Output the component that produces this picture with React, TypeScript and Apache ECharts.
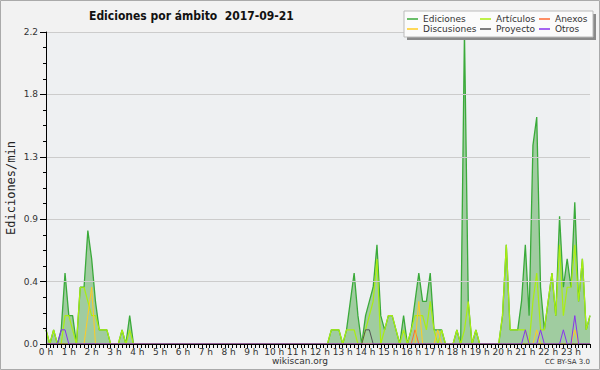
import React, { useEffect, useRef } from "react";
import * as echarts from "echarts";

// Hour tick labels (x axis shows one label per hour, data every 10 minutes)
const hourLabels = [
  "0 h", "1 h", "2 h", "3 h", "4 h", "5 h", "6 h", "7 h", "8 h", "9 h", "10 h", "11 h",
  "12 h", "13 h", "14 h", "15 h", "16 h", "17 h", "18 h", "19 h", "20 h", "21 h", "22 h", "23 h",
];
const minuteSlots = ["00", "10", "20", "30", "40", "50"];

// Values in edits/min, six 10-minute slots per hour
const edicionesByHour = [
  [0.1, 0, 0.1, 0, 0.1, 0.5],
  [0.2, 0.2, 0, 0.4, 0.4, 0.8],
  [0.6, 0.3, 0.1, 0.1, 0.1, 0],
  [0, 0, 0.1, 0, 0.2, 0],
  [0, 0, 0, 0, 0, 0],
  [0, 0, 0, 0, 0, 0],
  [0, 0, 0, 0, 0, 0],
  [0, 0, 0, 0, 0, 0],
  [0, 0, 0, 0, 0, 0],
  [0, 0, 0, 0, 0, 0],
  [0, 0, 0, 0, 0, 0],
  [0, 0, 0, 0, 0, 0],
  [0, 0, 0, 0.1, 0.1, 0.1],
  [0, 0.1, 0.3, 0.5, 0.2, 0],
  [0.2, 0.3, 0.4, 0.7, 0.2, 0.1],
  [0.2, 0.2, 0.1, 0, 0.2, 0],
  [0.1, 0.3, 0.5, 0.3, 0.3, 0.5],
  [0.1, 0.1, 0.1, 0, 0, 0],
  [0.1, 0, 2.2, 0.3, 0, 0.1],
  [0, 0, 0, 0, 0, 0],
  [0.2, 0.7, 0.1, 0.1, 0.1, 0.3],
  [0.7, 0.2, 1.4, 1.6, 0.4, 0.1],
  [0.3, 0.5, 0.2, 0.9, 0.4, 0.6],
  [0.4, 1.0, 0.3, 0.6, 0.1, 0.2],
];

const articulosByHour = [
  [0.1, 0, 0.1, 0, 0, 0.2],
  [0.2, 0.1, 0, 0.4, 0.4, 0.3],
  [0.2, 0.2, 0.1, 0.1, 0.1, 0],
  [0, 0, 0.1, 0, 0.1, 0],
  [0, 0, 0, 0, 0, 0],
  [0, 0, 0, 0, 0, 0],
  [0, 0, 0, 0, 0, 0],
  [0, 0, 0, 0, 0, 0],
  [0, 0, 0, 0, 0, 0],
  [0, 0, 0, 0, 0, 0],
  [0, 0, 0, 0, 0, 0],
  [0, 0, 0, 0, 0, 0],
  [0, 0, 0, 0.1, 0.1, 0.1],
  [0, 0.1, 0.1, 0.1, 0, 0],
  [0.1, 0.2, 0.3, 0.6, 0, 0.1],
  [0.2, 0.2, 0.1, 0, 0.1, 0],
  [0.1, 0.2, 0.2, 0.2, 0.1, 0.3],
  [0.1, 0, 0.1, 0, 0, 0],
  [0.1, 0, 0.1, 0.3, 0, 0.1],
  [0, 0, 0, 0, 0, 0],
  [0.2, 0.7, 0.1, 0.1, 0.1, 0.1],
  [0.1, 0, 0.3, 0.5, 0.1, 0.1],
  [0.3, 0.5, 0.2, 0.7, 0.2, 0.4],
  [0.4, 0.7, 0.3, 0.6, 0.1, 0.2],
];

const anexosByHour = [
  [0, 0, 0, 0, 0, 0], [0, 0, 0, 0, 0, 0], [0, 0, 0, 0, 0, 0], [0, 0, 0, 0, 0, 0],
  [0, 0, 0, 0, 0, 0], [0, 0, 0, 0, 0, 0], [0, 0, 0, 0, 0, 0], [0, 0, 0, 0, 0, 0],
  [0, 0, 0, 0, 0, 0], [0, 0, 0, 0, 0, 0], [0, 0, 0, 0, 0, 0], [0, 0, 0, 0, 0, 0],
  [0, 0, 0, 0, 0, 0], [0, 0, 0, 0, 0, 0], [0, 0, 0, 0, 0, 0], [0, 0, 0, 0, 0, 0],
  [0, 0.1, 0, 0, 0, 0], [0, 0, 0, 0, 0, 0], [0, 0, 0, 0, 0, 0], [0, 0, 0, 0, 0, 0],
  [0, 0, 0, 0, 0, 0], [0, 0, 0, 0, 0, 0], [0, 0, 0, 0, 0, 0], [0, 0, 0, 0, 0, 0],
];

const discusionesByHour = [
  [0, 0, 0, 0, 0, 0], [0, 0, 0, 0, 0, 0.2], [0.4, 0, 0, 0, 0, 0], [0, 0, 0, 0, 0, 0],
  [0, 0, 0, 0, 0, 0], [0, 0, 0, 0, 0, 0], [0, 0, 0, 0, 0, 0], [0, 0, 0, 0, 0, 0],
  [0, 0, 0, 0, 0, 0], [0, 0, 0, 0, 0, 0], [0, 0, 0, 0, 0, 0], [0, 0, 0, 0, 0, 0],
  [0, 0, 0, 0, 0, 0], [0, 0, 0, 0, 0, 0], [0, 0, 0, 0, 0, 0], [0, 0, 0, 0, 0, 0],
  [0, 0, 0.3, 0, 0, 0], [0, 0.1, 0, 0, 0, 0], [0, 0, 0, 0, 0, 0], [0, 0, 0, 0, 0, 0],
  [0, 0, 0, 0, 0, 0], [0, 0, 0, 0.1, 0, 0], [0, 0, 0, 0, 0, 0], [0, 0.1, 0, 0, 0, 0],
];

const proyectoByHour = [
  [0, 0, 0, 0, 0, 0], [0, 0, 0, 0, 0, 0], [0, 0, 0, 0, 0, 0], [0, 0, 0, 0, 0, 0],
  [0, 0, 0, 0, 0, 0], [0, 0, 0, 0, 0, 0], [0, 0, 0, 0, 0, 0], [0, 0, 0, 0, 0, 0],
  [0, 0, 0, 0, 0, 0], [0, 0, 0, 0, 0, 0], [0, 0, 0, 0, 0, 0], [0, 0, 0, 0, 0, 0],
  [0, 0, 0, 0, 0, 0], [0, 0, 0, 0, 0, 0], [0.1, 0.1, 0, 0, 0, 0], [0, 0, 0, 0, 0, 0],
  [0, 0, 0, 0, 0, 0], [0, 0, 0, 0, 0, 0], [0, 0, 0, 0, 0, 0], [0, 0, 0, 0, 0, 0],
  [0, 0, 0, 0, 0, 0], [0, 0, 0, 0, 0, 0], [0, 0, 0, 0, 0, 0], [0, 0, 0, 0, 0, 0],
];

const otrosByHour = [
  [0, 0, 0, 0, 0.1, 0.1], [0, 0, 0, 0, 0, 0], [0, 0, 0, 0, 0, 0], [0, 0, 0, 0, 0, 0],
  [0, 0, 0, 0, 0, 0], [0, 0, 0, 0, 0, 0], [0, 0, 0, 0, 0, 0], [0, 0, 0, 0, 0, 0],
  [0, 0, 0, 0, 0, 0], [0, 0, 0, 0, 0, 0], [0, 0, 0, 0, 0, 0], [0, 0, 0, 0, 0, 0],
  [0, 0, 0, 0, 0, 0], [0, 0, 0, 0, 0, 0], [0, 0, 0, 0, 0, 0], [0, 0, 0, 0, 0, 0],
  [0, 0, 0, 0, 0, 0], [0, 0, 0, 0, 0, 0], [0, 0, 0, 0, 0, 0], [0, 0, 0, 0, 0, 0],
  [0, 0, 0, 0, 0, 0], [0.1, 0, 0, 0, 0.1, 0], [0, 0, 0, 0, 0.1, 0], [0, 0.2, 0, 0, 0, 0],
];

const yTicks = { min: 0, max: 2.2, interval: 0.44 };

const FONT = "'DejaVu Sans', sans-serif";

export default function App() {
  const ref = useRef<HTMLDivElement>(null);

  useEffect(() => {
    if (!ref.current) return;
    const chart = echarts.init(ref.current, undefined, { renderer: "svg" });

    const categories = hourLabels.flatMap((h, hi) =>
      minuteSlots.map((m) => `${hi}:${m}`)
    );

    const lineBase = {
      type: "line" as const,
      symbol: "none",
      showSymbol: false,
      smooth: false,
    };

    const option = {
      animation: false,
      backgroundColor: "#f2f2f2",
      title: {
        text: "Ediciones por ámbito  2017-09-21",
        left: 84,
        top: 5,
        textStyle: {
          fontFamily: "'DejaVu Sans Condensed', 'Liberation Sans', sans-serif",
          fontSize: 12,
          fontWeight: "bold",
          color: "#111",
        },
      },
      grid: {
        left: 46,
        right: 10,
        top: 32,
        bottom: 26,
        show: true,
        backgroundColor: "#eef0f2",
        borderWidth: 0,
        containLabel: false,
        outerBoundsMode: "none",
      },
      legend: [
        { data: ["Ediciones", "Discusiones"], left: 407 },
        { data: ["Artículos", "Proyecto"], left: 480 },
        { data: ["Anexos", "Otros"], left: 539 },
      ].map((l) => ({
        ...l,
        top: 14,
        orient: "vertical",
        icon: "rect",
        itemWidth: 11,
        itemHeight: 1.5,
        itemGap: 0,
        padding: 0,
        selectedMode: false,
        z: 60,
        textStyle: { fontFamily: FONT, fontSize: 9, color: "#333", lineHeight: 10 },
      })),
      xAxis: {
        type: "category",
        data: categories,
        boundaryGap: false,
        z: 10,
        axisLine: { show: true, lineStyle: { color: "#000", width: 1 } },
        axisTick: { show: true, interval: 0, length: 4, lineStyle: { color: "#000" } },
        axisLabel: {
          interval: 5,
          margin: 3,
          fontFamily: FONT,
          fontSize: 9,
          color: "#333",
          formatter: (_v: string, idx: number) => hourLabels[Math.round(idx / 6)] ?? "",
        },
        splitLine: { show: false },
      },
      yAxis: {
        type: "value",
        min: yTicks.min,
        max: yTicks.max,
        interval: yTicks.interval,
        z: 10,
        name: "Ediciones/min",
        nameLocation: "middle",
        nameGap: 29,
        nameMoveOverlap: false,
        nameTextStyle: { fontFamily: "'DejaVu Sans Mono', monospace", fontSize: 12, color: "#222" },
        axisLine: { show: true, lineStyle: { color: "#000", width: 1 } },
        axisTick: { show: true, length: 6, lineStyle: { color: "#000" } },
        minorTick: { show: true, splitNumber: 4, length: 3, lineStyle: { color: "#000" } },
        splitLine: { show: true, lineStyle: { color: "#cccccc", width: 1 } },
        axisLabel: {
          margin: 8,
          fontFamily: FONT,
          fontSize: 9,
          color: "#333",
          formatter: (v: number) => v.toFixed(1),
        },
      },
      graphic: [
        { type: "rect", z: 50, shape: { x: 407, y: 14, width: 189, height: 26 }, style: { fill: "#8a8a8a" } },
        { type: "rect", z: 51, shape: { x: 404, y: 11, width: 189, height: 26 }, style: { fill: "#fbfbfb", stroke: "#bbbbbb", lineWidth: 1 } },
        { type: "text", z: 51, x: 300, y: 361, style: { text: "wikiscan.org", fontFamily: FONT, fontSize: 9, fill: "#333", align: "center", verticalAlign: "middle" } },
        { type: "text", z: 51, x: 590, y: 362, style: { text: "CC BY-SA 3.0", fontFamily: FONT, fontSize: 7, fill: "#333", align: "right", verticalAlign: "middle" } },
        { type: "rect", z: 0, silent: true, shape: { x: 0.5, y: 0.5, width: 599, height: 369 }, style: { fill: "none", stroke: "#aaaaaa", lineWidth: 1 } },
      ],
      series: [
        {
          ...lineBase,
          name: "Ediciones",
          data: edicionesByHour.flat(),
          color: "#3aaa3a",
          lineStyle: { color: "#3aaa3a", width: 1.3 },
          areaStyle: { color: "#a0cca0", opacity: 1 },
          z: 2,
        },
        { ...lineBase, name: "Artículos", data: articulosByHour.flat(), color: "#aaee11", lineStyle: { color: "#aaee11", width: 1.2 }, z: 3 },
        { ...lineBase, name: "Anexos", data: anexosByHour.flat(), color: "#ff6a33", lineStyle: { color: "#ff6a33", width: 1 }, z: 3 },
        { ...lineBase, name: "Discusiones", data: discusionesByHour.flat(), color: "#ffcc22", lineStyle: { color: "#ffcc22", width: 1 }, z: 3 },
        { ...lineBase, name: "Proyecto", data: proyectoByHour.flat(), color: "#555555", lineStyle: { color: "#555555", width: 1 }, z: 3 },
        { ...lineBase, name: "Otros", data: otrosByHour.flat(), color: "#8833ee", lineStyle: { color: "#8833ee", width: 1 }, z: 3 },
      ],
    };

    chart.setOption(option as any);
    return () => chart.dispose();
  }, []);

  return (
    <div
      ref={ref}
      style={{ position: "fixed", left: 0, top: 0, width: 600, height: 370 }}
    />
  );
}
